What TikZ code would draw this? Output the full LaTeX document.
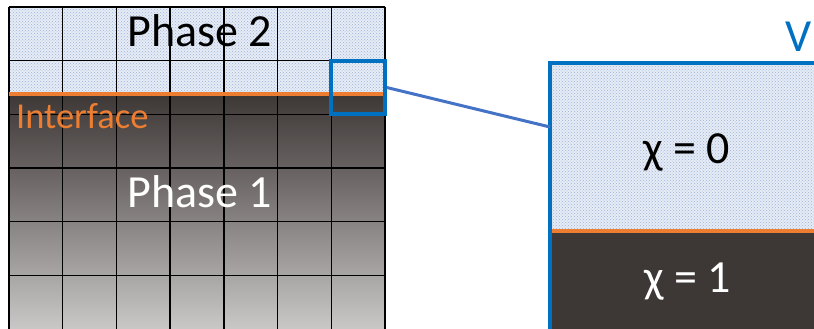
\documentclass[tikz,border=0pt]{standalone}
\usepackage{fontspec}
\setmainfont{Carlito}
\usetikzlibrary{patterns}
\definecolor{orng}{HTML}{ED7D31}
\definecolor{pblue}{HTML}{0070C0}
\definecolor{lblue}{HTML}{4472C4}
\definecolor{darkph}{HTML}{3D3836}
\definecolor{midph}{HTML}{6E6968}
\definecolor{lightph}{HTML}{D0CECE}
\definecolor{texbg}{HTML}{E6ECF5}
\definecolor{texdot}{HTML}{9FB3D8}
\tikzset{
  texfill/.style={fill=texbg, postaction={pattern=crosshatch dots, pattern color=texdot}},
  gridline/.style={black, line width=1.5pt},
  ifline/.style={orng, line width=3.5pt},
  bigtext/.style={font=\fontsize{46}{50}\selectfont, inner sep=0pt, anchor=base},
  hlbox/.style={draw=pblue, line width=3.5pt, inner sep=0pt},
  conn/.style={lblue, line width=3pt}
}
\begin{document}
\begin{tikzpicture}[x=1pt,y=-1pt]
\useasboundingbox (0,0) rectangle (814,329);
\clip (0,0) rectangle (814,329);
\fill[white] (0,0) rectangle (814,329);
% left grid: phase 2 and phase 1
\path[texfill] (9,7) rectangle (385,94);
\shade[top color=darkph, bottom color=midph] (9,94) rectangle (385,180);
\shade[top color=midph, bottom color=lightph] (9,180) rectangle (385,340);
\foreach \x in {9,62.71,116.43,170.14,223.86,277.57,331.29,385}
  \draw[gridline] (\x,7) -- (\x,340);
\foreach \y in {7,60.7,114.3,168,221.7,275.3}
  \draw[gridline] (9,\y) -- (385,\y);
\draw[ifline] (9,94) -- (385,94);
\node[bigtext] (p2) at (200,47) {Phase 2};
\node[bigtext, white] (p1) at (200,207) {Phase 1};
\node[font=\fontsize{36.5}{40}\selectfont, orng, inner sep=0pt, anchor=base west] (iface) at (16,128) {Interface};
% highlight cell
\node[hlbox, minimum width=54pt, minimum height=53pt] (hl) at (358,87.5) {};
% zoom box
\path[texfill] (550,63) rectangle (830,231);
\fill[darkph] (550,231) rectangle (830,345);
\draw[ifline] (550,231) -- (830,231);
\node[hlbox, minimum width=280pt, minimum height=282pt] (zb) at (690,204) {};
\coordinate (zin) at (550,127);
\draw[conn] (hl.east) -- (zin);
\node[bigtext] (c0) at (687,163) {χ = 0};
\node[bigtext, white] (c1) at (688,292) {χ = 1};
\node[font=\fontsize{46}{50}\selectfont, pblue, inner sep=0pt, anchor=base west] (v) at (785,52) {V};
\end{tikzpicture}
\end{document}
